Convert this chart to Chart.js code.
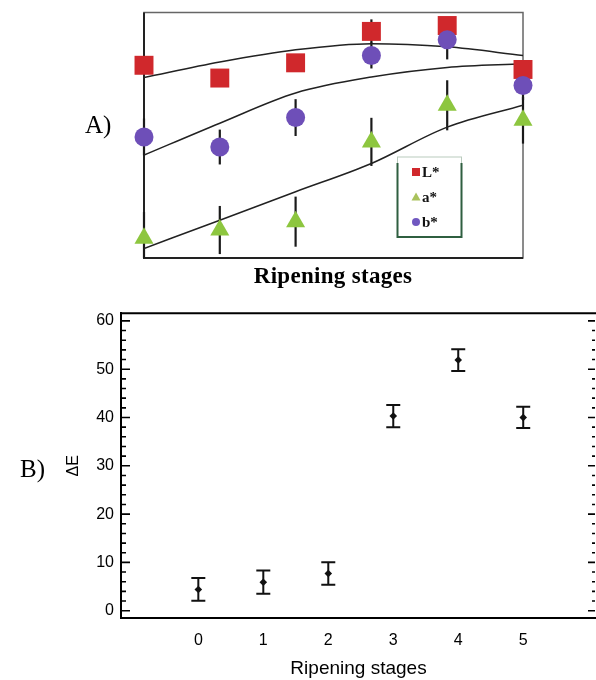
<!DOCTYPE html>
<html>
<head>
<meta charset="utf-8">
<script src="https://cdn.jsdelivr.net/npm/chart.js@4.4.0/dist/chart.umd.min.js"></script>
<style>
html, body { margin: 0; padding: 0; background: #fff; }
#wrap { position: relative; width: 596px; height: 680px; overflow: hidden; background: #fff; }
#chartA { position: absolute; left: 0; top: 0; }
#chartB { position: absolute; left: 0; top: 300px; }
.lbl { position: absolute; line-height: 1; white-space: nowrap; color: #000;
       font-family: "Liberation Serif", "Times New Roman", serif; }
</style>
</head>
<body>
<div id="wrap">
  <canvas id="chartA" width="596" height="300"></canvas>
  <canvas id="chartB" width="596" height="380"></canvas>
  <div class="lbl" style="left:85px;top:112px;font-size:25px;">A)</div>
  <div class="lbl" style="left:20px;top:456px;font-size:25px;">B)</div>
  <div class="lbl" style="left:183px;top:264px;width:300px;text-align:center;font-size:23px;font-weight:bold;letter-spacing:0.3px;">Ripening stages</div>
</div>
<script>
// ---------- DATA ----------
const stages = [0, 1, 2, 3, 4, 5];

// Panel A – colour coordinates (relative scale, no axis values shown)
const Lstar    = [78.5, 73.3, 79.5, 92.3, 94.7, 76.8];
const LstarErr = [3.5, 3.5, 3.5, 4.9, 3.5, 3.5];
const aStar    = [8.0, 11.4, 14.8, 47.3, 62.2, 56.1];
const aStarErr = [10.7, 9.8, 10.2, 9.8, 10.2, 9.5];
const bStar    = [49.3, 45.2, 57.2, 82.5, 88.9, 70.3];
const bStarErr = [7.5, 7.1, 7.5, 5.3, 8.0, 6.0];
// fitted trend lines
const Ltrend = [73.5, 79.8, 84.8, 87.3, 86.0, 82.5];
const bTrend = [41.9, 54.9, 67.2, 73.7, 77.6, 79.1];
const aTrend = [3.9, 15.4, 27.0, 38.5, 53.3, 62.2];
const legendLabels = ['L*', 'a*', 'b*'];

// Panel B – total colour difference
const deltaE    = [4.4, 5.9, 7.7, 40.3, 51.9, 40.0];
const deltaEErr = [2.35, 2.4, 2.35, 2.3, 2.25, 2.2];
const xTickLabels = [0, 1, 2, 3, 4, 5];

// ---------- STYLE ----------
const RED = '#d0282c', GREEN = '#8dc63f', PURPLE = '#6e4fb8';
const pts = ys => stages.map((x, i) => ({ x: x, y: ys[i] }));

// ---------- PANEL A ----------
const panelAPlugin = {
  id: 'panelA',
  beforeDatasetsDraw(chart) {
    const { ctx, chartArea: a, scales: { x, y } } = chart;
    ctx.save();
    // frame
    ctx.lineWidth = 1.5; ctx.strokeStyle = '#666';
    ctx.strokeRect(a.left, a.top, a.right - a.left, a.bottom - a.top);
    ctx.lineWidth = 2; ctx.strokeStyle = '#222';
    ctx.beginPath();
    ctx.moveTo(a.left, a.top); ctx.lineTo(a.left, a.bottom); ctx.lineTo(a.right, a.bottom);
    ctx.stroke();
    // error bars
    ctx.strokeStyle = '#1a1a1a'; ctx.lineWidth = 2.2;
    [[Lstar, LstarErr], [aStar, aStarErr], [bStar, bStarErr]].forEach(([v, e]) => {
      v.forEach((val, i) => {
        const px = x.getPixelForValue(stages[i]);
        ctx.beginPath();
        ctx.moveTo(px, y.getPixelForValue(Math.max(val - e[i], y.min)));
        ctx.lineTo(px, y.getPixelForValue(Math.min(val + e[i], y.max)));
        ctx.stroke();
      });
    });
    ctx.restore();
  },
  afterDraw(chart) {
    const { ctx } = chart;
    const bx = 397.5, by = 157, bw = 64, bh = 80;
    ctx.save();
    ctx.fillStyle = '#fff';
    ctx.fillRect(bx, by, bw, bh);
    ctx.strokeStyle = '#b9cbbd'; ctx.lineWidth = 1;
    ctx.strokeRect(bx, by, bw, bh);
    ctx.strokeStyle = '#2f5f40'; ctx.lineWidth = 2;
    ctx.beginPath();
    ctx.moveTo(bx, by + 6); ctx.lineTo(bx, by + bh); ctx.lineTo(bx + bw, by + bh); ctx.lineTo(bx + bw, by + 6);
    ctx.stroke();
    const rows = [172, 197, 222];
    const mx = 416;
    ctx.fillStyle = RED; ctx.fillRect(mx - 4, rows[0] - 4, 8, 8);
    ctx.fillStyle = '#a9c25c';
    ctx.beginPath(); ctx.moveTo(mx, rows[1] - 4.5); ctx.lineTo(mx + 4.5, rows[1] + 3.5); ctx.lineTo(mx - 4.5, rows[1] + 3.5); ctx.closePath(); ctx.fill();
    ctx.fillStyle = '#7058c0';
    ctx.beginPath(); ctx.arc(mx, rows[2], 4, 0, Math.PI * 2); ctx.fill();
    ctx.fillStyle = '#111';
    ctx.font = 'bold 15px "Liberation Serif", "Times New Roman", serif';
    ctx.textBaseline = 'middle'; ctx.textAlign = 'left';
    legendLabels.forEach((t, i) => ctx.fillText(t, 422, rows[i] + 1));
    ctx.restore();
  }
};

new Chart(document.getElementById('chartA'), {
  type: 'line',
  data: {
    datasets: [
      { label: 'b*', data: pts(bStar), showLine: false, pointStyle: 'circle', pointRadius: 9.5,
        backgroundColor: PURPLE, borderWidth: 0, pointBorderWidth: 0, order: 1, clip: false },
      { label: 'L*', data: pts(Lstar), showLine: false, pointStyle: 'rect', pointRadius: 13.4,
        backgroundColor: RED, borderWidth: 0, pointBorderWidth: 0, order: 2, clip: false },
      { label: 'a*', data: pts(aStar), showLine: false, pointStyle: 'triangle', pointRadius: 11,
        backgroundColor: GREEN, borderWidth: 0, pointBorderWidth: 0, order: 3, clip: false },
      { label: 'L* fit', data: pts(Ltrend), borderColor: '#222', borderWidth: 1.5, pointRadius: 0,
        cubicInterpolationMode: 'monotone', fill: false, order: 10 },
      { label: 'b* fit', data: pts(bTrend), borderColor: '#222', borderWidth: 1.5, pointRadius: 0,
        cubicInterpolationMode: 'monotone', fill: false, order: 10 },
      { label: 'a* fit', data: pts(aTrend), borderColor: '#222', borderWidth: 1.5, pointRadius: 0,
        cubicInterpolationMode: 'monotone', fill: false, order: 10 }
    ]
  },
  options: {
    responsive: false, animation: false, events: [],
    layout: { autoPadding: false, padding: { left: 144, top: 12.5, right: 73, bottom: 42 } },
    plugins: { legend: { display: false }, tooltip: { enabled: false } },
    scales: {
      x: { type: 'linear', display: false, min: 0, max: 5 },
      y: { display: false, min: 0, max: 100 }
    }
  },
  plugins: [panelAPlugin]
});

// ---------- PANEL B ----------
const panelBPlugin = {
  id: 'panelB',
  beforeDatasetsDraw(chart) {
    const { ctx, scales: { x, y } } = chart;
    ctx.save();
    ctx.strokeStyle = '#111'; ctx.lineWidth = 2;
    deltaE.forEach((v, i) => {
      const px = x.getPixelForValue(stages[i]);
      const pt = y.getPixelForValue(v + deltaEErr[i]);
      const pb = y.getPixelForValue(v - deltaEErr[i]);
      ctx.beginPath();
      ctx.moveTo(px, pt); ctx.lineTo(px, pb);
      ctx.moveTo(px - 7, pt); ctx.lineTo(px + 7, pt);
      ctx.moveTo(px - 7, pb); ctx.lineTo(px + 7, pb);
      ctx.stroke();
    });
    ctx.restore();
  },
  afterDraw(chart) {
    const { ctx, chartArea: a, scales: { y } } = chart;
    ctx.save();
    ctx.strokeStyle = '#000';
    ctx.lineWidth = 2;
    ctx.beginPath(); ctx.moveTo(a.left - 1, a.top); ctx.lineTo(a.right, a.top); ctx.stroke();
    ctx.lineWidth = 1.6;
    y.ticks.forEach(t => {
      const py = y.getPixelForValue(t.value);
      const major = t.label !== '';
      ctx.beginPath();
      ctx.moveTo(a.left, py); ctx.lineTo(a.left + (major ? 9 : 5), py);
      ctx.moveTo(a.right - 1, py); ctx.lineTo(a.right - 1 - (major ? 7 : 3), py);
      ctx.stroke();
    });
    ctx.restore();
  }
};

const sansFont = '"Liberation Sans", Arial, sans-serif';
new Chart(document.getElementById('chartB'), {
  type: 'line',
  data: {
    datasets: [
      { label: 'ΔE', data: pts(deltaE), showLine: false, pointStyle: 'rectRot', pointRadius: 3.8,
        backgroundColor: '#111', borderWidth: 0, pointBorderWidth: 0, clip: false }
    ]
  },
  options: {
    responsive: false, animation: false, events: [],
    layout: { autoPadding: false, padding: { left: 0, top: 13.3, right: 0, bottom: 0 } },
    plugins: { legend: { display: false }, tooltip: { enabled: false } },
    scales: {
      x: {
        type: 'linear', position: 'bottom', min: -1.19, max: 6.12,
        afterBuildTicks: s => { s.ticks = xTickLabels.map(v => ({ value: v })); },
        afterFit: s => { s.height = 61.7; s.paddingLeft = 0; s.paddingRight = 0; },
        grid: { display: false, drawTicks: false },
        border: { display: true, color: '#000', width: 2 },
        ticks: { color: '#000', padding: 13, font: { family: sansFont, size: 16 }, autoSkip: false, maxRotation: 0 },
        title: { display: true, text: 'Ripening stages', color: '#000',
                 font: { family: sansFont, size: 19 }, padding: { top: 0, bottom: 0 } }
      },
      y: {
        position: 'left', min: -1.57, max: 61.57,
        afterFit: s => { s.width = 121; s.paddingTop = 0; s.paddingBottom = 0; },
        grid: { display: false, drawTicks: false },
        border: { display: true, color: '#000', width: 2 },
        ticks: { stepSize: 2, includeBounds: false, autoSkip: false, color: '#000', padding: 7,
                 font: { family: sansFont, size: 16 },
                 callback: v => (v % 10 === 0 ? String(v) : '') },
        title: { display: true, text: 'ΔE', color: '#000',
                 font: { family: sansFont, size: 16 }, padding: { top: 64.4, bottom: 0 } }
      }
    }
  },
  plugins: [panelBPlugin]
});
</script>
</body>
</html>
